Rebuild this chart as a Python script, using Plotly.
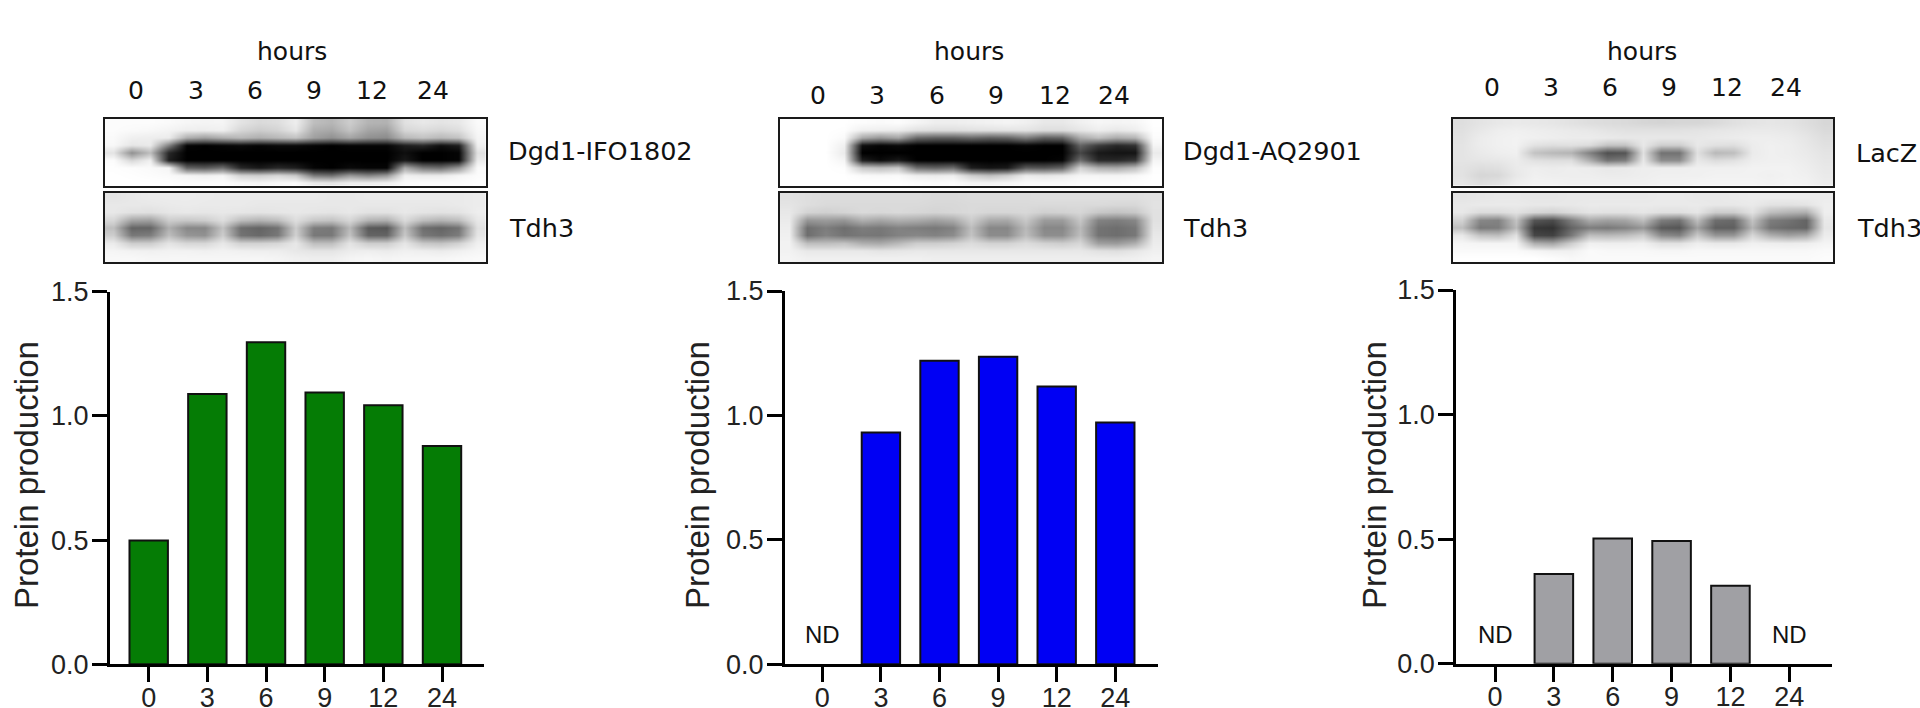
import plotly.graph_objects as go

W = 1920
H = 708

hours = ["0", "3", "6", "9", "12", "24"]
ticks_y = [0, 0.5, 1.0, 1.5]

vals_ifo = [0.498, 1.088, 1.297, 1.094, 1.043, 0.879]
vals_aq = [None, 0.931, 1.22, 1.236, 1.116, 0.972]
vals_lacz = [None, 0.36, 0.503, 0.493, 0.313, None]

nd_aq = ["0"]
nd_lacz = ["0", "24"]

# blot grey levels, top row first
blot_ifo = [
    [252,252,252,250,246,244,245,228,218,222,238,190,182,205,180,178,225,232,228,232,250],
    [252,250,248,244,238,238,240,215,205,212,230,175,168,195,165,160,215,220,215,222,248],
    [250,240,238,236,175,160,175,185,175,185,195,160,145,165,145,140,185,195,185,195,245],
    [248,230,235,130,5,0,5,10,5,10,10,5,0,5,5,5,30,40,15,30,240],
    [228,145,190,40,0,0,0,0,0,0,0,0,0,0,0,0,15,0,0,5,225],
    [252,215,240,30,0,0,0,0,0,0,0,0,0,0,0,0,25,0,0,5,235],
    [254,252,250,245,100,90,110,40,25,40,30,5,0,10,5,5,170,120,110,150,250],
    [255,254,252,250,245,240,245,210,205,215,200,120,110,150,130,150,240,235,235,245,252],
    [255,255,255,254,252,252,252,248,245,248,250,235,230,238,238,240,250,252,252,252,254],
]
blot_ifo_tdh = [
    [228,232,235,236,236,235,234,234,234,234,234,234,232,232,234,234,234,234,234,234,236],
    [232,232,232,234,235,234,234,234,232,232,232,232,232,232,232,232,232,232,232,234,236],
    [232,226,224,230,232,230,232,230,228,230,232,230,228,232,226,226,232,228,226,228,238],
    [215,165,160,205,200,205,222,190,180,190,222,200,195,215,180,175,218,190,180,190,232],
    [190,100,100,175,135,135,195,110,100,115,205,125,120,185,90,85,190,110,100,115,225],
    [205,120,125,190,150,145,205,115,105,120,210,120,120,195,100,100,200,120,110,125,230],
    [235,205,205,228,215,215,232,210,210,215,232,190,190,228,205,205,230,200,195,210,240],
    [245,242,240,242,242,240,242,240,238,238,232,228,228,236,238,235,240,238,235,240,246],
    [248,248,246,246,246,246,246,246,246,244,240,238,238,244,246,244,246,246,246,248,250],
]
blot_aq = [
    [255,255,255,255,252,250,252,245,238,238,240,242,244,240,232,232,240,246,244,246,255],
    [255,255,255,254,240,238,236,225,222,222,225,226,228,228,222,222,230,238,232,238,254],
    [255,255,255,250,170,150,165,105,95,95,105,95,100,125,95,100,170,190,170,180,252],
    [255,255,255,240,15,5,10,0,0,0,0,0,0,5,0,0,100,60,40,50,245],
    [255,255,255,235,0,0,0,0,0,0,0,0,0,0,0,0,70,25,20,20,235],
    [255,255,255,245,30,10,25,0,0,0,0,0,0,0,0,5,110,40,40,55,245],
    [255,255,255,253,200,190,200,110,100,110,30,20,25,90,85,100,210,175,170,190,253],
    [255,255,255,255,250,248,250,238,235,238,205,190,205,235,230,235,245,245,244,248,255],
    [255,255,255,255,255,255,255,252,250,252,245,244,246,250,250,250,252,252,252,254,255],
]
blot_aq_tdh = [
    [225,222,220,220,220,220,220,220,218,218,220,220,220,220,222,222,222,222,222,222,225],
    [228,222,218,218,218,218,218,218,216,216,218,218,218,218,218,218,218,218,216,216,226],
    [232,212,208,212,218,216,218,215,212,215,218,214,214,216,208,210,214,200,195,200,225],
    [235,150,155,150,175,165,175,170,160,170,205,170,168,200,155,155,198,130,125,135,225],
    [238,110,125,110,125,120,130,125,120,130,190,135,135,185,135,135,185,115,110,120,228],
    [240,110,130,115,120,118,130,135,130,140,195,140,140,190,142,142,190,115,110,120,232],
    [242,190,190,195,175,170,185,205,205,210,220,210,210,220,210,205,215,160,155,175,236],
    [242,232,232,232,232,228,230,232,232,232,232,232,232,232,232,232,232,225,222,230,240],
    [244,240,240,240,240,240,240,240,238,238,238,238,238,238,238,238,238,238,238,240,244],
]
blot_lacz = [
    [222,228,232,234,232,230,226,222,220,218,214,212,214,214,218,224,228,230,228,222,215],
    [224,232,238,240,238,236,234,232,228,226,226,226,226,228,230,232,234,234,232,226,218],
    [226,236,240,242,240,238,236,236,234,232,232,232,232,232,234,236,238,238,236,230,222],
    [228,236,240,242,226,222,224,220,195,195,232,205,205,232,225,222,236,240,238,232,225],
    [228,234,238,240,195,185,180,130,80,85,225,115,115,225,185,190,235,240,238,234,228],
    [228,230,232,236,225,222,222,175,115,125,232,140,140,232,220,225,238,240,240,236,230],
    [226,222,224,234,238,236,238,236,232,234,238,238,238,240,240,240,242,242,242,238,232],
    [226,214,216,232,240,238,238,238,236,236,238,240,240,240,242,242,242,240,242,240,234],
    [230,222,226,238,242,242,240,240,240,240,240,242,242,244,244,244,244,242,244,242,236],
]
blot_lacz_tdh = [
    [228,230,232,232,230,230,232,232,232,232,232,234,234,232,232,234,236,236,236,236,236],
    [232,234,234,234,232,232,232,234,234,234,234,234,234,234,232,232,234,226,225,228,238],
    [232,220,220,226,215,210,220,228,226,226,230,224,224,230,205,205,226,190,180,175,238],
    [210,135,130,195,85,75,125,170,160,165,190,125,115,190,110,105,195,125,115,100,232],
    [190,120,125,185,55,50,100,125,120,130,150,90,85,160,95,95,180,115,105,100,230],
    [232,195,190,225,70,65,120,190,185,190,205,140,130,200,150,150,215,175,160,170,236],
    [246,244,244,244,175,165,205,240,238,238,240,225,225,238,232,232,240,238,236,238,244],
    [250,250,250,250,245,240,240,250,248,248,248,246,246,248,248,248,248,248,248,248,250],
    [255,255,255,255,255,252,248,250,250,250,250,250,250,250,250,250,250,250,250,250,252],
]

# one dict per column of the figure, layout in pixels of the 1920x708 page
panels = [
    dict(vals=vals_ifo, color="#057c05", nd=[], axis_x=110, first=148.7, last=442, right=484,
         y0=664.3, y15=291.7, title_x=27, box=(104.5, 486), blots=(blot_ifo, blot_ifo_tdh),
         lanes=[136, 196, 255, 314, 372, 433], lane_y=90, hours_x=292, name="Dgd1-IFO1802",
         name_x=506, tdh_x=507, name_y=151),
    dict(vals=vals_aq, color="#0000f4", nd=nd_aq, axis_x=785, first=822.3, last=1115.3, right=1157.7,
         y0=664.3, y15=291, title_x=698, box=(780, 1162), blots=(blot_aq, blot_aq_tdh),
         lanes=[818, 877, 937, 996, 1055, 1114], lane_y=96, hours_x=969, name="Dgd1-AQ2901",
         name_x=1181, tdh_x=1181, name_y=151),
    dict(vals=vals_lacz, color="#a0a0a4", nd=nd_lacz, axis_x=1456.3, first=1495, last=1789.3, right=1831.7,
         y0=663.7, y15=290, title_x=1375, box=(1453, 1833), blots=(blot_lacz, blot_lacz_tdh),
         lanes=[1492, 1551, 1610, 1669, 1727, 1786], lane_y=87, hours_x=1642, name="LacZ",
         name_x=1854, tdh_x=1855, name_y=153),
]

BLOT_FONT = "DejaVu Sans"
CHART_FONT = "Liberation Sans"


def px(x):
    return x / W


def py(y):
    return 1 - y / H


def label(x, y, text, size, family, color="#111111", anchor="center", angle=0):
    return dict(x=px(x), y=py(y), xref="paper", yref="paper", text=text, showarrow=False,
                xanchor=anchor, yanchor="middle", textangle=angle,
                font=dict(family=family, size=size, color=color))


fig = go.Figure()
layout = {}
notes = []
n = 0

for p in panels:
    # the two blots above the bars
    for grid, top, bottom in zip(p["blots"], (118.5, 193), (186, 262)):
        n += 1
        s = "" if n == 1 else str(n)
        fig.add_trace(go.Heatmap(z=grid, xaxis="x" + s, yaxis="y" + s, zmin=0, zmax=255, zsmooth="best",
                                 colorscale=[[0, "#000000"], [1, "#ffffff"]], showscale=False, hoverinfo="skip"))
        frame = dict(showline=True, mirror=True, linecolor="#1a1a1a", linewidth=2, showgrid=False,
                     zeroline=False, showticklabels=False, ticks="", automargin=False)
        layout["xaxis" + s] = dict(domain=[px(p["box"][0]), px(p["box"][1])], anchor="y" + s,
                                   range=[-0.5, 20.5], **frame)
        layout["yaxis" + s] = dict(domain=[py(bottom), py(top)], anchor="x" + s,
                                   range=[8.5, -0.5], **frame)

    # bars
    n += 1
    s = str(n)
    step = (p["last"] - p["first"]) / 5
    fig.add_trace(go.Bar(x=hours, y=p["vals"], xaxis="x" + s, yaxis="y" + s, width=0.655,
                         marker=dict(color=p["color"], line=dict(color="#111111", width=2))))
    layout["xaxis" + s] = dict(domain=[px(p["axis_x"]), px(p["right"])], anchor="y" + s, type="category",
                               range=[(p["axis_x"] - p["first"]) / step, (p["right"] - p["first"]) / step],
                               categoryorder="array", categoryarray=hours, automargin=False,
                               showline=True, linecolor="#000000", linewidth=3, showgrid=False, zeroline=False,
                               ticks="outside", ticklen=15, tickwidth=3, tickcolor="#000000",
                               ticklabelstandoff=-8,
                               tickfont=dict(family=CHART_FONT, size=27, color="#222222"))
    layout["yaxis" + s] = dict(domain=[py(p["y0"]), py(p["y15"])], anchor="x" + s, range=[0, 1.5],
                               tickvals=ticks_y, ticktext=["0.0", "0.5", "1.0", "1.5"], automargin=False,
                               showline=True, linecolor="#000000", linewidth=3, showgrid=False, zeroline=False,
                               ticks="outside", ticklen=15, tickwidth=3, tickcolor="#000000",
                               ticklabelstandoff=-2,
                               tickfont=dict(family=CHART_FONT, size=27, color="#222222"))

    for lane in p["nd"]:
        notes.append(dict(x=hours.index(lane), y=0.118, xref="x" + s, yref="y" + s, text="ND", showarrow=False,
                          font=dict(family=CHART_FONT, size=24, color="#111111")))

    notes.append(label(p["title_x"], 475, "Protein production", 33, CHART_FONT, "#222222", angle=-90))
    notes.append(label(p["hours_x"], 52, "hours", 25, BLOT_FONT))
    for x, h in zip(p["lanes"], hours):
        notes.append(label(x, p["lane_y"], h, 25, BLOT_FONT))
    notes.append(label(p["name_x"], p["name_y"], p["name"], 25.5, BLOT_FONT, anchor="left"))
    notes.append(label(p["tdh_x"], 228, "Tdh3", 25.5, BLOT_FONT, anchor="left"))

fig.update_layout(width=W, height=H, margin=dict(l=0, r=0, t=0, b=0), plot_bgcolor="white", paper_bgcolor="white",
                  showlegend=False, annotations=notes, **layout)

# browser default body margin would push the 1920x708 figure off the page
fig.write_html("out.html", config={"displayModeBar": False}, post_script="document.body.style.margin='0';")
